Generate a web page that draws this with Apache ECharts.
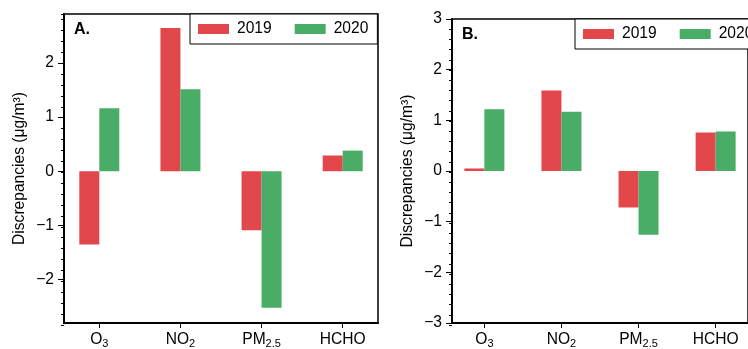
<!DOCTYPE html>
<html>
<head>
<meta charset="utf-8">
<script src="https://cdn.jsdelivr.net/npm/echarts@6/dist/echarts.min.js"></script>
<style>
    html, body { margin: 0; padding: 0; background: #fff; }
    #main { width: 748px; height: 349px; }
</style>
</head>
<body>
<div id="main"></div>
<script>
    var categories = ['O3', 'NO2', 'PM2.5', 'HCHO'];
    var years = ['2019', '2020'];
    var panelA2019 = [-1.35, 2.64, -1.09, 0.29];
    var panelA2020 = [1.16, 1.51, -2.52, 0.38];
    var panelB2019 = [0.05, 1.59, -0.72, 0.76];
    var panelB2020 = [1.22, 1.17, -1.26, 0.78];
    var xTicks = [0, 1, 2, 3];
    var yTicksA = [-2, -1, 0, 1, 2];
    var yTicksB = [-3, -2, -1, 0, 1, 2, 3];

    var FONT = 'Liberation Sans';
    var FS = 15.6;
    var RED = '#E2474B';
    var GREEN = '#49AD67';

    var myChart = echarts.init(document.getElementById('main'));

    function pairs(vals) {
        return vals.map(function (v, i) { return [i, v]; });
    }

    // O3 -> O{s|3}
    function catLabel(v) {
        var m = /^([A-Za-z]+?)([\d.]*)$/.exec(categories[v]);
        if (!m) return '';
        return '{b|' + m[1] + '}' + (m[2] ? '{s|' + m[2] + '}' : '');
    }

    function minus(v) {
        return v < 0 ? '\u2212' + Math.abs(v) : String(v);
    }

    var grids = [
        { left: 64, top: 14, width: 314, height: 311 },
        { left: 452, top: 19, width: 307, height: 306 }
    ];
    var xRange = [[-0.435, 3.435], [-0.42, 3.42]];
    var yRange = [[-2.8, 2.9], [-3, 3]];
    var yTicks = [yTicksA, yTicksB];

    var gridOpt = [], xAxes = [], yAxes = [];
    grids.forEach(function (g, i) {
        gridOpt.push({
            left: g.left, top: g.top, width: g.width, height: g.height,
            show: true, borderColor: '#000', borderWidth: 1.5, backgroundColor: 'transparent'
        });
        xAxes.push({
            gridIndex: i,
            type: 'value',
            min: xRange[i][0],
            max: xRange[i][1],
            axisLine: { show: true, onZero: false, lineStyle: { color: '#000', width: 2 } },
            axisTick: { show: true, customValues: xTicks, length: 5, lineStyle: { color: '#000', width: 1 } },
            axisLabel: {
                show: true,
                customValues: xTicks,
                margin: 7,
                formatter: catLabel,
                rich: {
                    b: { fontSize: FS, color: '#000', fontFamily: FONT, lineHeight: 19 },
                    s: { fontSize: 11, color: '#000', fontFamily: FONT, lineHeight: 11, verticalAlign: 'bottom' }
                }
            },
            splitLine: { show: false }
        });
        yAxes.push({
            gridIndex: i,
            type: 'value',
            min: yRange[i][0],
            max: yRange[i][1],
            axisLine: { show: true, onZero: false, lineStyle: { color: '#000', width: 2 } },
            axisTick: { show: true, customValues: yTicks[i], length: 6, lineStyle: { color: '#000', width: 1 } },
            axisLabel: {
                show: true,
                customValues: yTicks[i],
                formatter: minus,
                fontSize: FS,
                color: '#000',
                fontFamily: FONT,
                margin: 10
            },
            splitLine: { show: false },
            name: 'Discrepancies (\u03bcg/m\u00b3)',
            nameLocation: 'middle',
            nameGap: 36,
            nameTextStyle: { fontSize: FS, color: '#000', fontFamily: FONT }
        });
    });

    // overlay grids just for the 0.2 minor ticks
    grids.forEach(function (g, i) {
        gridOpt.push({ left: g.left, top: g.top, width: g.width, height: g.height, show: false });
        xAxes.push({
            gridIndex: i + 2, type: 'value', show: false,
            min: xRange[i][0], max: xRange[i][1]
        });
        yAxes.push({
            gridIndex: i + 2,
            type: 'value',
            min: yRange[i][0],
            max: yRange[i][1],
            interval: 0.2,
            axisLine: { show: false, onZero: false },
            axisTick: { show: true, length: 3, lineStyle: { color: '#000', width: 1 } },
            axisLabel: { show: false },
            splitLine: { show: false }
        });
    });

    function barSeries(name, idx, vals, color) {
        return {
            name: name,
            type: 'bar',
            xAxisIndex: idx,
            yAxisIndex: idx,
            data: pairs(vals),
            barWidth: 20,
            barGap: '0%',
            itemStyle: { color: color }
        };
    }

    function legendAt(left, top) {
        return {
            left: left,
            top: top,
            width: 400,
            orient: 'horizontal',
            data: years,
            icon: 'rect',
            itemWidth: 31,
            itemHeight: 10,
            itemGap: 23,
            padding: [7, 9, 7, 8],
            borderColor: '#000',
            borderWidth: 1,
            backgroundColor: '#fff',
            textStyle: { fontSize: FS, color: '#000', fontFamily: FONT, padding: [0, 0, 0, 3] }
        };
    }

    var option = {
        animation: false,
        color: [RED, GREEN],
        grid: gridOpt,
        xAxis: xAxes,
        yAxis: yAxes,
        legend: [legendAt(190, 14), legendAt(575, 19)],
        graphic: [
            { type: 'text', left: 74, top: 22, style: { text: 'A.', font: 'bold 16px "Liberation Sans"', fill: '#000' } },
            { type: 'text', left: 462, top: 27, style: { text: 'B.', font: 'bold 16px "Liberation Sans"', fill: '#000' } }
        ],
        series: [
            barSeries(years[0], 0, panelA2019, RED),
            barSeries(years[1], 0, panelA2020, GREEN),
            barSeries(years[0], 1, panelB2019, RED),
            barSeries(years[1], 1, panelB2020, GREEN)
        ]
    };
    myChart.setOption(option);

    window.addEventListener('resize', function () {
        myChart.resize();
    });
</script>
</body>
</html>
